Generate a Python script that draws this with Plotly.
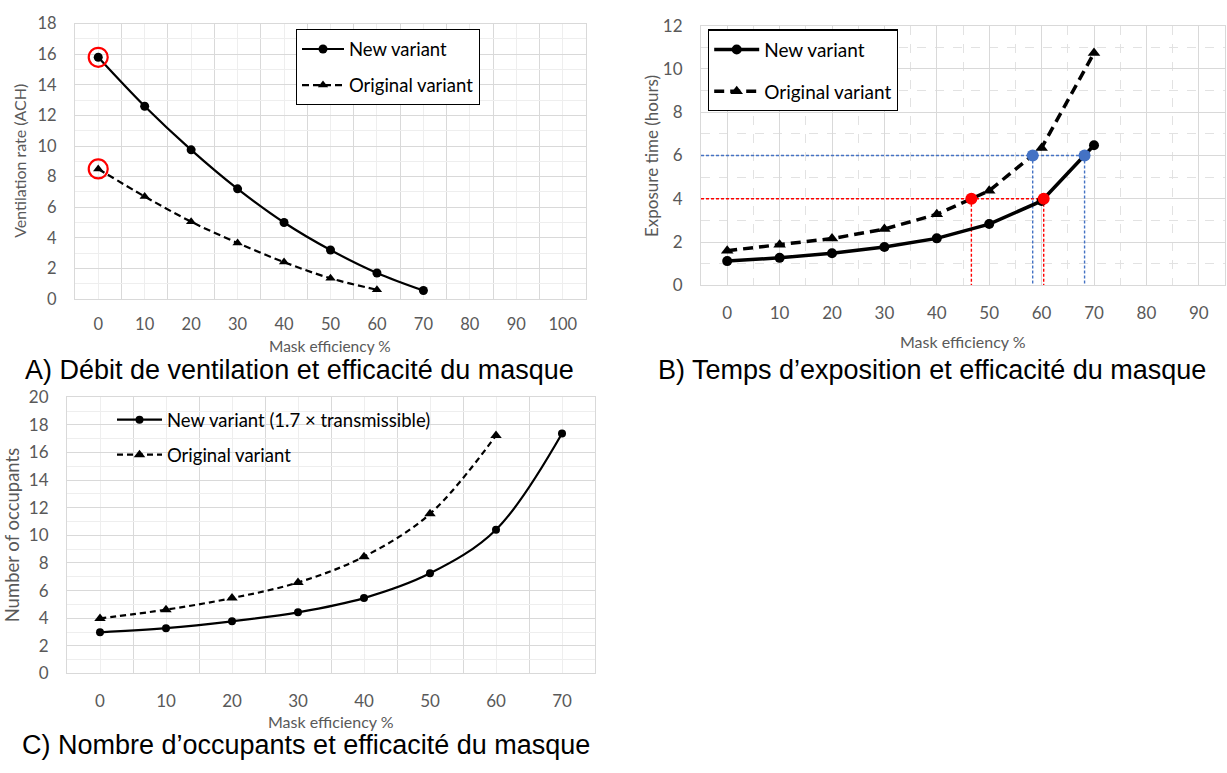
import plotly.graph_objects as go

W, H = 1227, 773

# ---------------- data ----------------
mask_eff = [0, 10, 20, 30, 40, 50, 60, 70]
mask_eff_orig = [0, 10, 20, 30, 40, 50, 60]

vent_new = [15.8, 12.6, 9.75, 7.2, 5.0, 3.2, 1.7, 0.55]
vent_orig = [8.5, 6.7, 5.05, 3.66, 2.41, 1.35, 0.6]
vent_highlight_x = [0, 0]
vent_highlight_y = [15.8, 8.5]

expo_new = [1.12, 1.27, 1.48, 1.77, 2.17, 2.83, 3.9, 6.47]
expo_orig = [1.6, 1.87, 2.16, 2.6, 3.28, 4.37, 6.35, 10.73]
red_level = 4
red_x = [46.6, 60.4]
blue_level = 6
blue_x = [58.3, 68.2]

occ_new = [2.98, 3.28, 3.78, 4.43, 5.46, 7.25, 10.41, 17.37]
occ_orig = [3.99, 4.62, 5.46, 6.59, 8.46, 11.56, 17.23]

xticks_A = [0, 10, 20, 30, 40, 50, 60, 70, 80, 90, 100]
xticks_B = [0, 10, 20, 30, 40, 50, 60, 70, 80, 90]
xticks_C = [0, 10, 20, 30, 40, 50, 60, 70]
xrange_A = [-5, 105]
xrange_B = [-5, 95]
xrange_C = [-5, 75]

captions = ["A) Débit de ventilation et efficacité du masque",
            "B) Temps d’exposition et efficacité du masque",
            "C) Nombre d’occupants et efficacité du masque"]

# ---------------- helpers ----------------
def px(x):
    return x / W

def py(y):
    return 1 - y / H

FONT = "Lato"
GRAY = "#595959"
MAJ = "#d9d9d9"
MIN = "#eeeeee"
CLEAR = "rgba(0,0,0,0)"

fig = go.Figure()

# ---------------- panel A ----------------
fig.add_trace(go.Scatter(x=mask_eff, y=vent_new, mode="lines+markers", name="New variant",
                         line=dict(color="black", width=2.2, shape="spline", smoothing=1),
                         marker=dict(symbol="circle", size=9, color="black"),
                         xaxis="x", yaxis="y", legend="legend", legendgroup="a1"))
fig.add_trace(go.Scatter(x=mask_eff_orig, y=vent_orig, mode="lines+markers", name="Original variant",
                         line=dict(color="black", width=2.2, dash="7px,4px", shape="spline", smoothing=1),
                         marker=dict(symbol="triangle-up", size=9, color="black"),
                         xaxis="x", yaxis="y", legend="legend", legendgroup="a2"))
fig.add_trace(go.Scatter(x=vent_highlight_x, y=vent_highlight_y, mode="markers", showlegend=False,
                         marker=dict(symbol="circle-open", size=19, color="#ff0000", line=dict(width=2.2)),
                         xaxis="x", yaxis="y"))

# ---------------- panel B ----------------
ref_dash = "3px,2px"
fig.add_trace(go.Scatter(x=[xrange_B[0], red_x[1]], y=[red_level, red_level], mode="lines", showlegend=False,
                         line=dict(color="#ff0000", width=1.4, dash=ref_dash), xaxis="x2", yaxis="y2"))
for xv in red_x:
    fig.add_trace(go.Scatter(x=[xv, xv], y=[red_level, 0], mode="lines", showlegend=False,
                             line=dict(color="#ff0000", width=1.4, dash=ref_dash), xaxis="x2", yaxis="y2"))
fig.add_trace(go.Scatter(x=[xrange_B[0], blue_x[1]], y=[blue_level, blue_level], mode="lines", showlegend=False,
                         line=dict(color="#4472c4", width=1.4, dash=ref_dash), xaxis="x2", yaxis="y2"))
for xv in blue_x:
    fig.add_trace(go.Scatter(x=[xv, xv], y=[blue_level, 0], mode="lines", showlegend=False,
                             line=dict(color="#4472c4", width=1.4, dash=ref_dash), xaxis="x2", yaxis="y2"))

fig.add_trace(go.Scatter(x=mask_eff, y=expo_new, mode="lines+markers", name="New variant",
                         line=dict(color="black", width=3.5),
                         marker=dict(symbol="circle", size=10, color="black"),
                         xaxis="x2", yaxis="y2", legend="legend2", legendgroup="b1"))
fig.add_trace(go.Scatter(x=mask_eff, y=expo_orig, mode="lines+markers", name="Original variant",
                         line=dict(color="black", width=3.5, dash="10px,6px"),
                         marker=dict(symbol="triangle-up", size=11, color="black"),
                         xaxis="x2", yaxis="y2", legend="legend2", legendgroup="b2"))
fig.add_trace(go.Scatter(x=red_x, y=[red_level, red_level], mode="markers", showlegend=False,
                         marker=dict(size=12, color="#ff0000"), xaxis="x2", yaxis="y2"))
fig.add_trace(go.Scatter(x=blue_x, y=[blue_level, blue_level], mode="markers", showlegend=False,
                         marker=dict(size=12, color="#4472c4"), xaxis="x2", yaxis="y2"))

# ---------------- panel C ----------------
fig.add_trace(go.Scatter(x=mask_eff, y=occ_new, mode="lines+markers", name="New variant (1.7 × transmissible)",
                         line=dict(color="black", width=2.2, shape="spline", smoothing=1),
                         marker=dict(symbol="circle", size=8, color="black"),
                         xaxis="x3", yaxis="y3", legend="legend3", legendgroup="c1"))
fig.add_trace(go.Scatter(x=mask_eff_orig, y=occ_orig, mode="lines+markers", name="Original variant",
                         line=dict(color="black", width=2.2, dash="6px,4px", shape="spline", smoothing=1),
                         marker=dict(symbol="triangle-up", size=10, color="black"),
                         xaxis="x3", yaxis="y3", legend="legend3", legendgroup="c2"))

# ---------------- axes ----------------
def xax(domain, rng, ticks, anchor, fsize, major_col, minor_col, dashed=False, tlen=12):
    return dict(domain=domain, range=rng, anchor=anchor, tickvals=ticks,
                ticks="outside", ticklen=tlen, tickcolor=CLEAR,
                showgrid=True, gridcolor=major_col, gridwidth=1,
                minor=dict(dtick=5, tick0=5, showgrid=True, gridcolor=minor_col, gridwidth=1,
                           griddash="dash" if dashed else "solid", ticks=""),
                zeroline=False, showline=True, mirror=True, linecolor=MAJ, linewidth=1,
                tickfont=dict(family=FONT, size=fsize, color=GRAY),
                fixedrange=True)

def yax(domain, rng, dtick, anchor, fsize, dashed=False, tlen=14):
    return dict(domain=domain, range=rng, anchor=anchor, dtick=dtick,
                ticks="outside", ticklen=tlen, tickcolor=CLEAR,
                showgrid=True, gridcolor=MAJ, gridwidth=1,
                minor=dict(dtick=dtick / 2, showgrid=True, gridcolor=MIN if not dashed else "#e2e2e2",
                           gridwidth=1, griddash="dash" if dashed else "solid", ticks=""),
                zeroline=False, showline=True, mirror=True, linecolor=MAJ, linewidth=1,
                tickfont=dict(family=FONT, size=fsize, color=GRAY),
                fixedrange=True)

dom_A_x = [px(75), px(586)]
dom_A_y = [py(296), py(13)]
dom_B_x = [px(701), px(1225)]
dom_B_y = [py(282), py(15)]
dom_C_x = [px(67), px(595)]
dom_C_y = [py(681), py(397)]

fig.update_layout(
    xaxis=xax(dom_A_x, xrange_A, xticks_A, "y", 16.5, MIN, MAJ, tlen=10),
    yaxis=yax(dom_A_y, [0, 18], 2, "x", 16.5),
    xaxis2=xax(dom_B_x, xrange_B, xticks_B, "y2", 17, MAJ, "#e2e2e2", dashed=True, tlen=12),
    yaxis2=yax(dom_B_y, [0, 12], 2, "x2", 17, dashed=True),
    xaxis3=xax(dom_C_x, xrange_C, xticks_C, "y3", 17, MIN, MAJ, tlen=12),
    yaxis3=yax(dom_C_y, [0, 20], 2, "x3", 17),
)

# ---------------- legends ----------------
fig.update_layout(
    legend=dict(x=px(296), y=py(19), xanchor="left", yanchor="top", bgcolor="white",
                bordercolor="black", borderwidth=1, traceorder="grouped", tracegroupgap=9,
                itemwidth=42, font=dict(family=FONT, size=18.5, color="black")),
    legend2=dict(x=px(708), y=py(19), xanchor="left", yanchor="top", bgcolor="white",
                 bordercolor="black", borderwidth=1.2, traceorder="grouped", tracegroupgap=14,
                 itemwidth=45, font=dict(family=FONT, size=19, color="black")),
    legend3=dict(x=px(112), y=py(401), xanchor="left", yanchor="top", bgcolor="rgba(0,0,0,0)",
                 borderwidth=0, traceorder="grouped", tracegroupgap=8,
                 itemwidth=45, font=dict(family=FONT, size=18.5, color="black")),
)

# ---------------- titles / captions ----------------
ann = []
def add_text(text, x, y, size, family=FONT, color=GRAY, angle=0):
    ann.append(dict(text=text, x=px(x), y=py(y), xref="paper", yref="paper",
                    xanchor="center", yanchor="middle", showarrow=False, textangle=angle,
                    font=dict(family=family, size=size, color=color)))

add_text("Mask efficiency %", 330, 344, 15.5)
add_text("Mask efficiency %", 963, 340, 16)
add_text("Mask efficiency %", 331, 730, 16)
add_text("Ventilation rate (ACH)", 20, 154, 16, angle=-90)
add_text("Exposure time (hours)", 652, 149, 17, angle=-90)
add_text("Number of occupants", 12, 539, 18.5, angle=-90)
add_text(captions[0], 299, 369, 27, family="Liberation Sans", color="black")
add_text(captions[1], 932, 369, 27, family="Liberation Sans", color="black")
add_text(captions[2], 306, 755, 27, family="Liberation Sans", color="black")

fig.update_layout(annotations=ann, width=W, height=H, margin=dict(l=0, r=0, t=0, b=0),
                  paper_bgcolor="white", plot_bgcolor="white", showlegend=True)

fig.write_html("out.html", config=dict(displayModeBar=False))
